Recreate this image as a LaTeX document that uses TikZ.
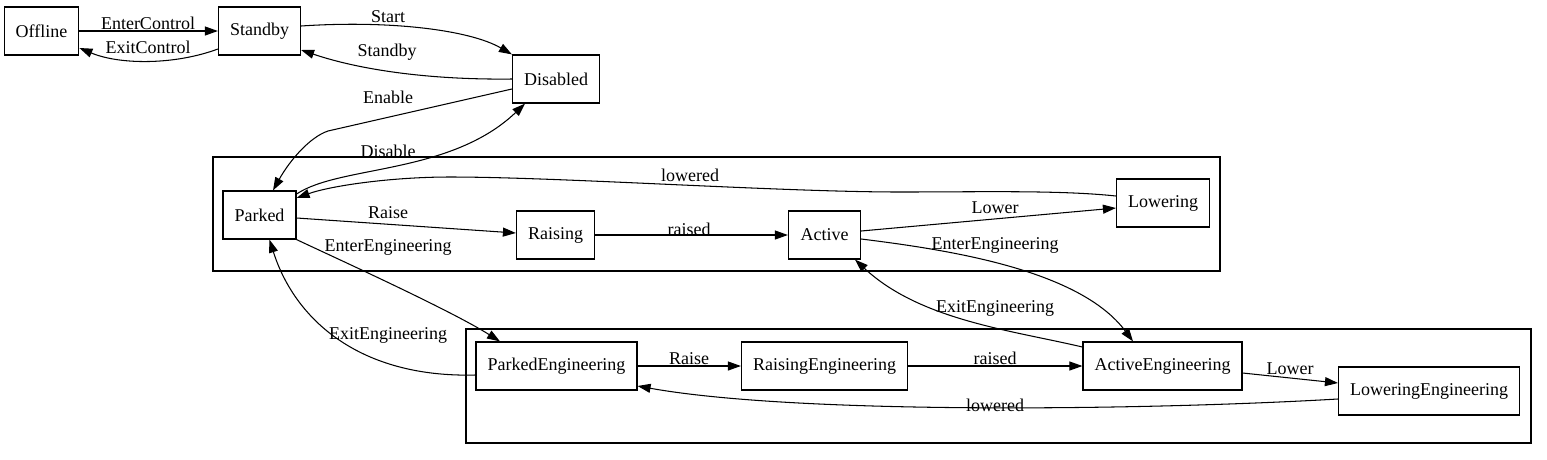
\documentclass[tikz,border=0pt]{standalone}
\usepackage{fontspec}
\setmainfont{Liberation Serif}
\usetikzlibrary{arrows.meta}

\begin{document}
\begin{tikzpicture}[
        x=1pt, y=-1pt,
        every node/.style={font=\fontsize{18}{21}\selectfont},
        state/.style={draw, rectangle, line width=1.2pt, minimum width=72pt, minimum height=48pt, inner xsep=11.5pt, inner ysep=0pt},
        cluster/.style={draw, rectangle, line width=1.2pt, inner sep=0pt},
        arrow/.style={-{Triangle[length=13pt, width=9pt]}, line width=1.05pt},
        lbl/.style={inner sep=0pt}
    ]
    \useasboundingbox (0,0) rectangle (1547,459);

    % Clusters
    \node[cluster, minimum width=1007pt, minimum height=114pt] (normal) at (716.5,214) {};
    \node[cluster, minimum width=1065pt, minimum height=114pt] (engineering) at (998.5,386) {};

    % Top: control states
    \node[state] (offline) at (41.5,31) {Offline};
    \node[state] (standby) at (259.5,31) {Standby};
    \node[state] (disabled) at (556,79) {Disabled};

    % Normal operation
    \node[state] (parked) at (259.5,215) {Parked};
    \node[state] (raising) at (555.5,235) {Raising};
    \node[state] (active) at (824.5,235) {Active};
    \node[state] (lowering) at (1163,203) {Lowering};

    % Engineering mode
    \node[state] (parkedeng) at (556.5,366) {ParkedEngineering};
    \node[state] (raisingeng) at (824.5,366) {RaisingEngineering};
    \node[state] (activeeng) at (1162.5,366) {ActiveEngineering};
    \node[state] (loweringeng) at (1429,391) {LoweringEngineering};

    % Control transitions
    \draw[arrow] (offline.east) -- (standby.west) node[lbl] at (148,23) {EnterControl};
    \draw[arrow] ([yshift=-18pt]standby.west) .. controls (175,65) and (120,65) .. ([yshift=-17pt]offline.east) node[lbl] at (148,47) {ExitControl};
    \draw[arrow] ([yshift=5pt]standby.east) .. controls (390,20) and (470,30) .. (disabled.north west) node[lbl] at (388,17) {Start};
    \draw[arrow] (disabled.west) .. controls (430,80) and (360,70) .. ([yshift=-19pt]standby.east) node[lbl] at (387,52) {Standby};
    \draw[arrow] ([yshift=-10pt]disabled.west) -- (328,131) .. controls (310,137) and (290,160) .. ([xshift=13.5pt]parked.north) node[lbl] at (388,97) {Enable};
    \draw[arrow] ([yshift=21pt]parked.east) .. controls (340,165) and (450,175) .. ([xshift=-31pt]disabled.south) node[lbl] at (388,151) {Disable};

    % Normal cycle
    \draw[arrow] ([yshift=-3pt]parked.east) -- ([yshift=2pt]raising.west) node[lbl] at (388,213) {Raise};
    \draw[arrow] (raising.east) -- (active.west) node[lbl] at (689,229) {raised};
    \draw[arrow] ([yshift=4pt]active.east) -- ([yshift=-5pt]lowering.west) node[lbl] at (995,208) {Lower};
    \draw[arrow] ([yshift=7pt]lowering.west) .. controls (1060,190) and (980,192) .. (900,192)
        .. controls (780,192) and (560,177) .. (450,177)
        .. controls (390,177) and (330,186) .. ([yshift=17pt]parked.east) node[lbl] at (690,175) {lowered};

    % Into and out of engineering
    \draw[arrow] (parked.south east) .. controls (340,260) and (450,310) .. ([xshift=-56.5pt]parkedeng.north) node[lbl] at (388,247) {EnterEngineering};
    \draw[arrow] ([yshift=-9pt]parkedeng.west) .. controls (360,378) and (295,320) .. ([xshift=10pt]parked.south) node[lbl] at (388,335) {ExitEngineering};
    \draw[arrow] ([yshift=-4pt]active.east) .. controls (950,250) and (1080,270) .. ([xshift=-29.5pt]activeeng.north) node[lbl] at (995,245) {EnterEngineering};
    \draw[arrow] ([yshift=19pt]activeeng.west) .. controls (1010,330) and (920,320) .. ([xshift=30.5pt]active.south) node[lbl] at (995,308) {ExitEngineering};

    % Engineering cycle
    \draw[arrow] (parkedeng.east) -- (raisingeng.west) node[lbl] at (689,359) {Raise};
    \draw[arrow] (raisingeng.east) -- (activeeng.west) node[lbl] at (995,358) {raised};
    \draw[arrow] ([yshift=-7pt]activeeng.east) -- ([yshift=8pt]loweringeng.west) node[lbl] at (1290,369) {Lower};
    \draw[arrow] ([yshift=-8pt]loweringeng.west) .. controls (1150,410) and (800,415) .. ([yshift=-20pt]parkedeng.east) node[lbl] at (995,405) {lowered};
\end{tikzpicture}
\end{document}
